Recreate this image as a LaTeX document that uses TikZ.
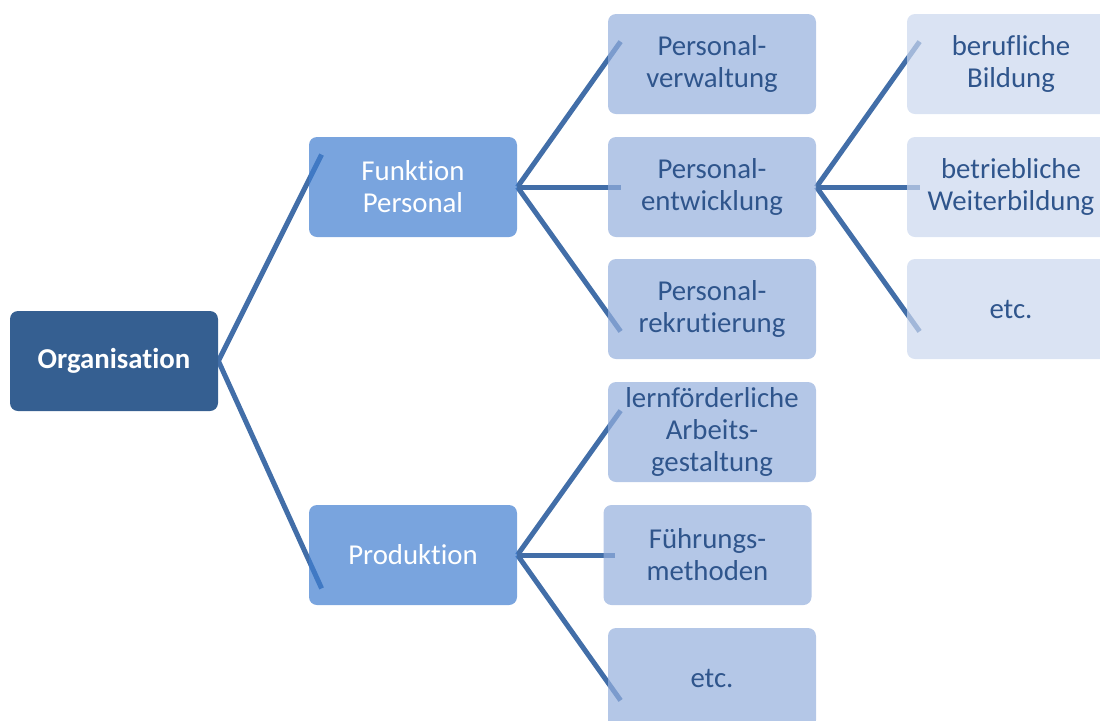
\documentclass[tikz,border=0pt]{standalone}
\usepackage{fontspec}
\setmainfont[Ligatures=NoCommon]{Carlito}
\usetikzlibrary{calc}

\pgfdeclarelayer{background}
\pgfsetlayers{background,main}

\definecolor{wurzelblau}{RGB}{53,95,145}
\definecolor{blauEins}{RGB}{64,126,208}
\definecolor{blauZwei}{RGB}{148,175,221}
\definecolor{blauDrei}{RGB}{202,215,238}
\definecolor{linienblau}{RGB}{66,110,168}
\definecolor{textblau}{RGB}{47,85,140}

\tikzset{
    kasten/.style={rounded corners=4pt, minimum width=104pt, minimum height=50pt,
        align=center, inner sep=2pt, font=\fontsize{14.4}{16}\selectfont},
    wurzel/.style={kasten, fill=wurzelblau, text=white},
    ebeneEins/.style={kasten, fill=blauEins, fill opacity=0.7, text opacity=1, text=white},
    ebeneZwei/.style={kasten, fill=blauZwei, fill opacity=0.7, text opacity=1, text=textblau},
    ebeneDrei/.style={kasten, fill=blauDrei, fill opacity=0.7, text opacity=1, text=textblau},
    ast/.style={draw=linienblau, line width=2.5pt}
}

\begin{document}
\begin{tikzpicture}[x=0.5pt, y=-0.5pt]
    \clip (0,0) rectangle (1100,720);

    % Wurzel
    \node[wurzel] (org) at (114,361) {\textbf{Organisation}};

    % Ebene 1
    \node[ebeneEins] (funk) at (413,187) {Funktion\\Personal};
    \node[ebeneEins] (prod) at (413,555) {Produktion};

    % Ebene 2
    \node[ebeneZwei] (verw) at (712,64) {Personal-\\verwaltung};
    \node[ebeneZwei] (entw) at (712,187) {Personal-\\entwicklung};
    \node[ebeneZwei] (rekr) at (712,309) {Personal-\\rekrutierung};
    \node[ebeneZwei] (arb) at (712,432) {lernförderliche\\Arbeits-\\gestaltung};
    \node[ebeneZwei] (fuehr) at (707.5,555) {Führungs-\\methoden};
    \node[ebeneZwei] (etcA) at (712,678) {etc.};

    % Ebene 3
    \node[ebeneDrei] (beruf) at (1011,64) {berufliche\\Bildung};
    \node[ebeneDrei] (betr) at (1011,187) {betriebliche\\Weiterbildung};
    \node[ebeneDrei] (etcB) at (1011,309) {etc.};

    % Verbindungen
    \begin{pgfonlayer}{background}
        \draw[ast] (org.east) -- ($(funk.north west)+(13,18)$);
        \draw[ast] (org.east) -- ($(prod.south west)+(13,-17)$);

        \draw[ast] (funk.east) -- ($(verw.north west)+(13,28)$);
        \draw[ast] (funk.east) -- ($(entw.west)+(13,0)$);
        \draw[ast] (funk.east) -- ($(rekr.south west)+(13,-28)$);

        \draw[ast] (prod.east) -- ($(arb.north west)+(13,29)$);
        \draw[ast] (prod.east) -- ($(fuehr.west)+(12,0)$);
        \draw[ast] (prod.east) -- ($(etcA.south west)+(13,-28)$);

        \draw[ast] (entw.east) -- ($(beruf.north west)+(13,28)$);
        \draw[ast] (entw.east) -- ($(betr.west)+(13,0)$);
        \draw[ast] (entw.east) -- ($(etcB.south west)+(13,-28)$);
    \end{pgfonlayer}
\end{tikzpicture}
\end{document}
